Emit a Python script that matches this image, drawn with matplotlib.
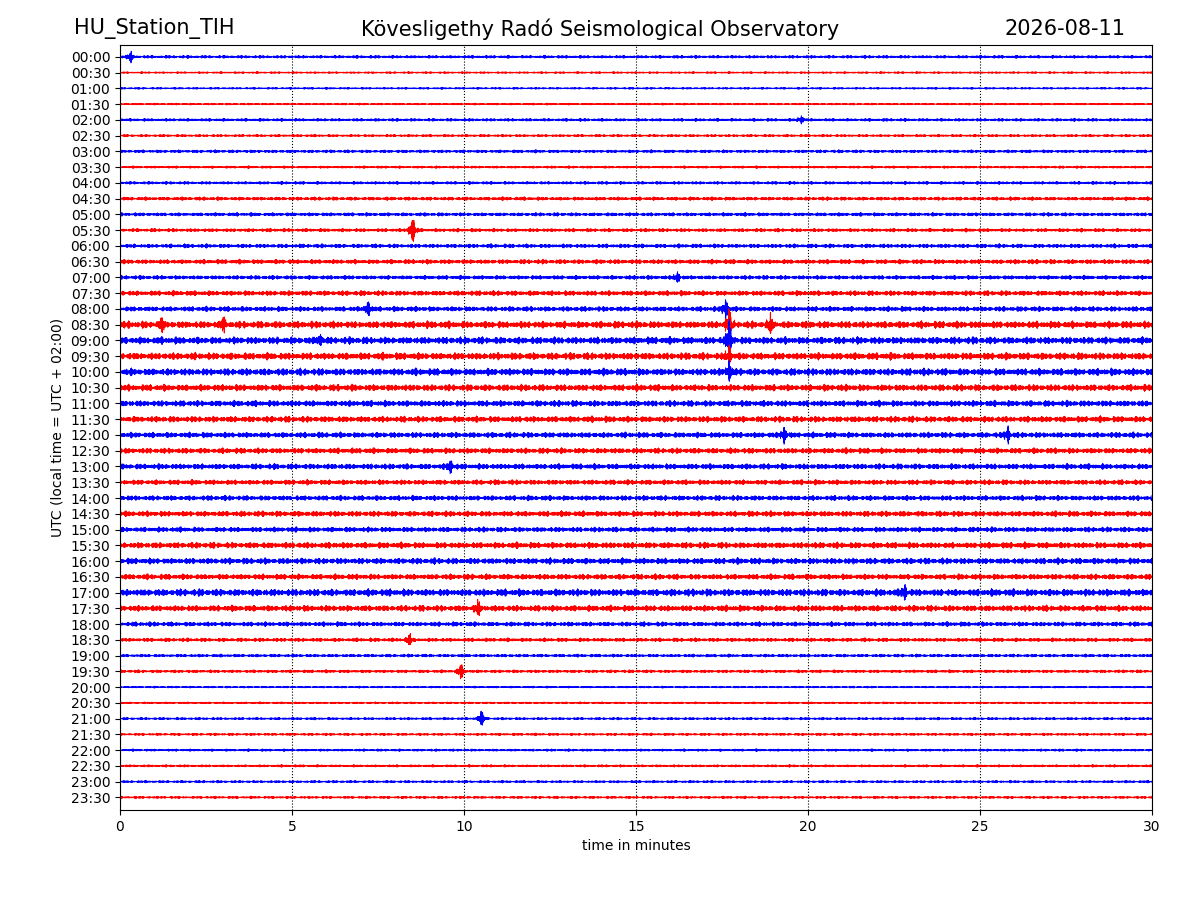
import numpy as np
import matplotlib
matplotlib.use("Agg")
import matplotlib.pyplot as plt

station = "HU_Station_TIH"
observatory = "Kövesligethy Radó Seismological Observatory"
date_label = "2026-08-11"

row_labels = ["%02d:%02d" % (h, m) for h in range(24) for m in (0, 30)]

# background noise level per half-hour row (in units of row spacing)
noise_level = [0.12, 0.08, 0.08, 0.08, 0.12, 0.10, 0.12, 0.10, 0.12, 0.14,
               0.14, 0.14, 0.16, 0.18, 0.16, 0.20, 0.20, 0.28, 0.28, 0.28,
               0.28, 0.26, 0.24, 0.24, 0.22, 0.22, 0.22, 0.20, 0.20, 0.22,
               0.20, 0.24, 0.24, 0.22, 0.28, 0.24, 0.18, 0.15, 0.12, 0.12,
               0.08, 0.08, 0.10, 0.10, 0.10, 0.10, 0.10, 0.10]

# events: (row, minute, amplitude)
event_rows = [0, 4, 11, 14, 16, 16, 17, 17, 17, 17, 18, 18, 19, 20,
              24, 24, 26, 34, 35, 37, 39, 42]
event_min = [0.3, 19.8, 8.5, 16.2, 7.2, 17.6, 1.2, 3.0, 17.7, 18.9, 17.7, 5.8,
             17.7, 17.7, 19.3, 25.8, 9.6, 22.8, 10.4, 8.4, 9.9, 10.5]
event_amp = [0.35, 0.25, 0.85, 0.35, 0.5, 0.6, 0.5, 0.5, 1.0, 0.6, 1.2, 0.4,
             0.6, 0.6, 0.5, 0.5, 0.4, 0.5, 0.5, 0.4, 0.5, 0.5]


def main():
    t = np.linspace(0, 30, 9000)
    fig = plt.figure(figsize=(12, 9), dpi=100)
    ax = fig.add_axes([0.1, 0.1, 0.86, 0.85])

    for i, lvl in enumerate(noise_level):
        ph = i * 1.7
        wave = (np.sin(2 * np.pi * 37.3 * t + ph) * np.sin(2 * np.pi * 0.91 * t + ph * 2.3)
                + 0.7 * np.sin(2 * np.pi * 113.7 * t + ph * 0.7) * np.sin(2 * np.pi * 2.37 * t + ph)
                + 0.5 * np.sin(2 * np.pi * 271.3 * t + ph * 3.1))
        wave = wave / 2.2 * lvl
        for r, m, a in zip(event_rows, event_min, event_amp):
            if r == i:
                dt = t - m
                env = np.exp(-np.abs(dt) / 0.06) * (1 + 0.5 * np.sin(2 * np.pi * 7 * dt))
                wave = wave + a * env * np.sin(2 * np.pi * 140 * t)
        color = "blue" if i % 2 == 0 else "red"
        ax.plot(t, i - wave, color=color, lw=0.5)

    ax.set_xlim(0, 30)
    ax.set_ylim(47.8, -0.75)
    ax.set_yticks(range(48))
    ax.set_yticklabels(row_labels)
    ax.set_xticks([0, 5, 10, 15, 20, 25, 30])
    ax.xaxis.grid(True, linestyle=":", color="black", lw=0.8)
    ax.set_xlabel("time in minutes")
    ax.set_ylabel("UTC (local time = UTC + 02:00)")

    fig.text(0.062, 0.968, station, fontsize=15, ha="left", va="center")
    fig.text(0.5, 0.968, observatory, fontsize=15, ha="center", va="center")
    fig.text(0.938, 0.968, date_label, fontsize=15, ha="right", va="center")

    fig.savefig("out.png")


if __name__ == "__main__":
    main()
